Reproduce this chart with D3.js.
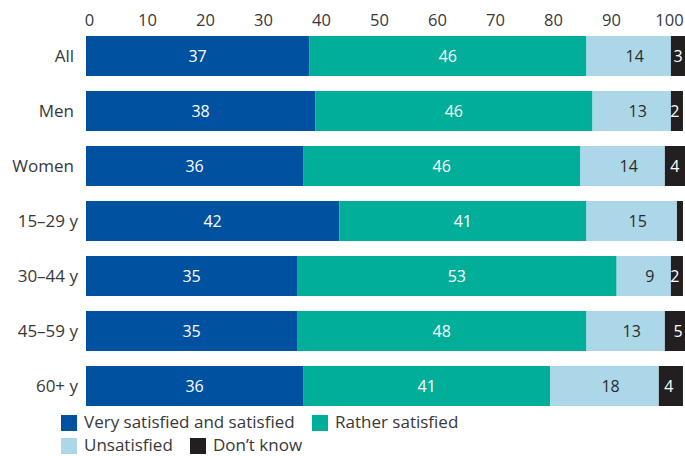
<!DOCTYPE html>
<html><head><meta charset="utf-8">
<script src="https://cdn.jsdelivr.net/npm/d3@7"></script>
<style>
body{margin:0;background:#fff;}
text{font-family:"Open Sans",sans-serif;}
</style></head>
<body><svg id="c" width="685" height="456"></svg>
<script>
const categories = ["All","Men","Women","15–29 y","30–44 y","45–59 y","60+ y"];
const verySatisfied = [37,38,36,42,35,35,36];
const ratherSatisfied = [46,46,46,41,53,48,41];
const unsatisfied = [14,13,14,15,9,13,18];
const dontKnow = [3,2,4,1,2,5,4];
const seriesNames = ["Very satisfied and satisfied","Rather satisfied","Unsatisfied","Don’t know"];
const seriesColors = ["#0052a0","#00ae9a","#acd7e9","#231f20"];
const labelColors = ["#ffffff","#ffffff","#2a2a2a","#ffffff"];
const tickValues = [0,10,20,30,40,50,60,70,80,90,100];

const rows = categories.map((c,i)=>({cat:c, s0:verySatisfied[i], s1:ratherSatisfied[i], s2:unsatisfied[i], s3:dontKnow[i]}));
const keys = ["s0","s1","s2","s3"];
const stacked = d3.stack().keys(keys)(rows);

const svg = d3.select("#c");
const x = d3.scaleLinear().domain([0,100]).range([86,689]);
const xAxisScale = d3.scaleLinear().domain([0,100]).range([89,669]);
const y = d3.scaleBand().domain(categories).range([28.5,413.5]).paddingInner(15/55).paddingOuter(7.5/55);

// axis
const ax = svg.append("g").attr("transform","translate(0,20)")
  .call(d3.axisTop(xAxisScale).tickValues(tickValues).tickSize(0).tickPadding(0));
ax.select(".domain").remove();
ax.selectAll("text").attr("font-size",16.5).attr("fill","#383838").attr("dy","0.35em")
  .style("font-family","'Open Sans',sans-serif");

// bars
const g = svg.append("g");
stacked.forEach((layer,k)=>{
  g.selectAll(null).data(layer).enter().append("rect")
    .attr("x",d=>x(d[0])).attr("width",d=>x(d[1])-x(d[0]))
    .attr("y",d=>y(d.data.cat)).attr("height",y.bandwidth())
    .attr("fill",seriesColors[k]);
  g.selectAll(null).data(layer.filter(d=>d[1]-d[0]>=2)).enter().append("text")
    .attr("x",d=>(x(d[0])+x(d[1]))/2 + (k===2?6:(k===3?-2:0)))
    .attr("y",d=>y(d.data.cat)+y.bandwidth()/2)
    .attr("dy","0.35em").attr("text-anchor","middle")
    .attr("font-size",16).attr("fill",labelColors[k])
    .text(d=>d[1]-d[0]);
});

// category labels
svg.append("g").selectAll("text").data(categories).enter().append("text")
  .attr("x",d=>d.endsWith("y")?78:74).attr("y",d=>y(d)+y.bandwidth()/2)
  .attr("dy","0.35em").attr("text-anchor","end")
  .attr("font-size",17).attr("fill","#383838").text(d=>d);

// legend
const legendPos = [[61,415],[312,415],[61,438],[190,438]];
const lg = svg.append("g");
seriesNames.forEach((n,i)=>{
  const [lx,ly]=legendPos[i];
  lg.append("rect").attr("x",lx).attr("y",ly).attr("width",16).attr("height",16).attr("fill",seriesColors[i]);
  lg.append("text").attr("x",lx+23).attr("y",ly+7).attr("dy","0.35em")
    .attr("font-size",17).attr("fill","#383838").text(n);
});
</script></body></html>
